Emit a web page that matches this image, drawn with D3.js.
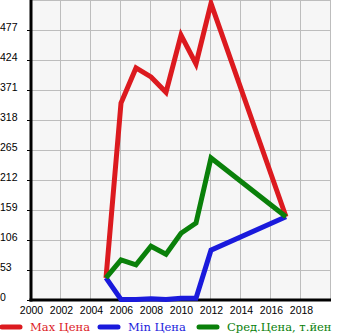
<!DOCTYPE html>
<html>
<head>
<meta charset="utf-8">
<script src="https://cdn.jsdelivr.net/npm/d3@7/dist/d3.min.js"></script>
<style>
  html, body { margin: 0; padding: 0; background: #fff; }
  svg { display: block; }
</style>
</head>
<body>
<svg id="chart" width="345" height="335"></svg>
<script>
// Price history by model year
const years = [2005, 2006, 2007, 2008, 2009, 2010, 2011, 2012, 2017];
const maxPrice = [39, 348, 410, 394, 367, 468, 417, 524, 147];
const minPrice = [39, 1, 1, 2, 1, 3, 3, 88, 147];
const avgPrice = [39, 71, 62, 95, 81, 118, 136, 251, 147];

const xTicks = [2000, 2002, 2004, 2006, 2008, 2010, 2012, 2014, 2016, 2018];
const yTicks = [0, 53, 106, 159, 212, 265, 318, 371, 424, 477];
const xGrid = [2000, 2002, 2004, 2006, 2008, 2010, 2012, 2014, 2016, 2018, 2020];
const yGrid = [0, 53, 106, 159, 212, 265, 318, 371, 424, 477, 530];

const legendNames = ["Max Цена", "Min Цена", "Сред.Цена, т.йен"];
const colors = ["#dc1a1f", "#1a1adc", "#0a800a"];

const svg = d3.select("#chart");
const plotLeft = 31, plotRight = 331, plotTop = 0, plotBottom = 300;

const x = d3.scaleLinear().domain([2000, 2020]).range([plotLeft, plotRight]);
const y = d3.scaleLinear().domain([0, 530]).range([plotBottom, plotTop]);

// plot background
svg.append("rect")
  .attr("x", plotLeft).attr("y", plotTop)
  .attr("width", plotRight - plotLeft).attr("height", plotBottom - plotTop)
  .attr("fill", "#f6f6f6");

// grid
const grid = svg.append("g").attr("stroke", "#bdbdbd").attr("stroke-width", 1);
grid.selectAll("line.v").data(xGrid).join("line").attr("class", "v")
  .attr("x1", d => Math.round(x(d)) - 0.5).attr("x2", d => Math.round(x(d)) - 0.5)
  .attr("y1", plotTop).attr("y2", plotBottom);
grid.selectAll("line.h").data(yGrid).join("line").attr("class", "h")
  .attr("y1", d => Math.round(y(d)) + 0.5).attr("y2", d => Math.round(y(d)) + 0.5)
  .attr("x1", plotLeft).attr("x2", plotRight);

// axes
const tickFont = "Liberation Sans, Arial, sans-serif";
const xAxis = d3.axisBottom(x).tickValues(xTicks).tickFormat(d3.format("d")).tickSize(0).tickPadding(7);
const gx = svg.append("g").attr("transform", `translate(0,${plotBottom})`).call(xAxis);
gx.select(".domain").remove();
gx.selectAll("text").attr("font-family", tickFont).attr("font-size", 10.5).attr("fill", "#000");

const yAxis = d3.axisLeft(y).tickValues(yTicks).tickSize(4).tickPadding(10);
const gy = svg.append("g").attr("transform", `translate(${plotLeft},0)`).call(yAxis);
gy.select(".domain").remove();
gy.selectAll(".tick line").attr("stroke", "#000");
gy.selectAll("text").attr("font-family", tickFont).attr("font-size", 10.5).attr("fill", "#000")
  .attr("text-anchor", "start").attr("x", -31).attr("dy", "0");

svg.append("line").attr("x1", plotLeft).attr("x2", plotLeft).attr("y1", plotTop).attr("y2", plotBottom + 1.5)
  .attr("stroke", "#000").attr("stroke-width", 3);
svg.append("line").attr("x1", plotLeft - 1.5).attr("x2", plotRight).attr("y1", plotBottom).attr("y2", plotBottom)
  .attr("stroke", "#000").attr("stroke-width", 3);

// series
const line = d3.line().x(d => x(d[0])).y(d => y(d[1]));
const series = [maxPrice, minPrice, avgPrice];
series.forEach((vals, i) => {
  svg.append("path")
    .datum(years.map((yr, j) => [yr, vals[j]]))
    .attr("d", line)
    .attr("fill", "none")
    .attr("stroke", colors[i])
    .attr("stroke-width", 5)
    .attr("stroke-linejoin", "miter");
});

// legend
const legendX = [0, 98, 197];
const lg = svg.append("g");
legendNames.forEach((name, i) => {
  lg.append("line")
    .attr("x1", legendX[i] + 2).attr("x2", legendX[i] + 20)
    .attr("y1", 327).attr("y2", 327)
    .attr("stroke", colors[i]).attr("stroke-width", 5).attr("stroke-linecap", "round");
  lg.append("text")
    .attr("x", legendX[i] + 30).attr("y", 331)
    .attr("font-family", "DejaVu Serif").attr("font-size", 11.5)
    .attr("fill", colors[i])
    .text(name);
});
</script>
</body>
</html>
